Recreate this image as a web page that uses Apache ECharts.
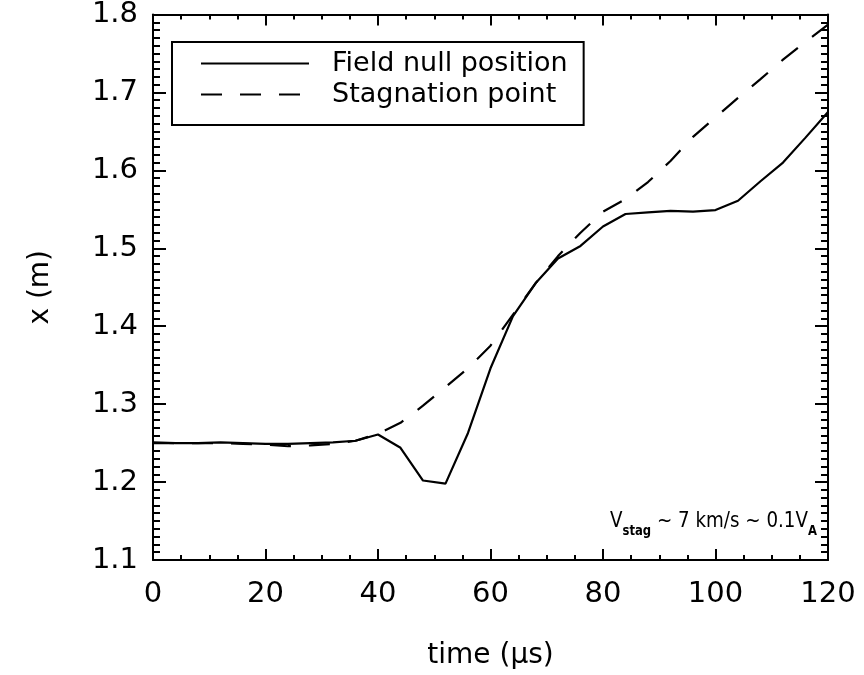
<!DOCTYPE html>
<html>
<head>
<meta charset="utf-8">
<script src="https://cdn.jsdelivr.net/npm/echarts@6/dist/echarts.min.js"></script>
<style>
  html, body { margin: 0; padding: 0; background: #fff; }
  #chart { width: 864px; height: 675px; }
</style>
</head>
<body>
<div id="chart"></div>
<script>
// time (µs), samples every 4 µs
const times = [0, 4, 8, 12, 16, 20, 24, 28, 32, 36, 40, 44, 48, 52, 56, 60,
  64, 68, 72, 76, 80, 84, 88, 92, 96, 100, 104, 108, 112, 116, 120];

// field null position x (m)
const nullPos = [1.251, 1.250, 1.250, 1.251, 1.250, 1.249, 1.249, 1.250, 1.251, 1.253, 1.261,
  1.244, 1.202, 1.198, 1.263, 1.346, 1.413, 1.455, 1.487, 1.503, 1.528, 1.544, 1.546,
  1.548, 1.547, 1.549, 1.561, 1.586, 1.610, 1.642, 1.675];

// stagnation point x (m)
const stagPos = [1.250, 1.250, 1.250, 1.250, 1.249, 1.248, 1.246, 1.247, 1.249, 1.253, 1.262,
  1.276, 1.298, 1.322, 1.346, 1.375, 1.415, 1.455, 1.490, 1.520, 1.547, 1.563, 1.585,
  1.612, 1.643, 1.668, 1.693, 1.717, 1.742, 1.765, 1.787];

const seriesNames = ['Field null position', 'Stagnation point'];

const FONT = 'DejaVu Sans';

const toPairs = (xs, ys) => xs.map((x, i) => [x, ys[i]]);

const chart = echarts.init(document.getElementById('chart'));

const axisLine = { show: true, onZero: false, lineStyle: { color: '#000', width: 2 } };

const option = {
  backgroundColor: '#fff',
  animation: false,
  grid: { left: 153, right: 36, top: 12, bottom: 112, containLabel: false },
  legend: {
    orient: 'vertical',
    left: 172,
    top: 42,
    data: seriesNames,
    itemWidth: 108,
    itemHeight: 14,
    itemGap: 4,
    padding: [8, 16, 17, 28],
    borderColor: '#000',
    borderWidth: 2,
    itemStyle: { color: 'transparent', borderWidth: 0 },
    textStyle: { fontFamily: FONT, fontSize: 27, color: '#000', padding: [0, 0, 0, 18] }
  },
  xAxis: [
    {
      type: 'value', min: 0, max: 120, interval: 20,
      name: 'time (μs)', nameLocation: 'middle', nameGap: 82,
      nameTextStyle: { fontFamily: FONT, fontSize: 28, color: '#000' },
      axisLine: axisLine,
      axisTick: { show: true, inside: true, length: 11, lineStyle: { color: '#000', width: 2 } },
      minorTick: { show: true, splitNumber: 4, length: 5, lineStyle: { color: '#000', width: 2 } },
      axisLabel: { fontFamily: FONT, fontSize: 29, color: '#000', margin: 20 },
      splitLine: { show: false }
    },
    {
      type: 'value', min: 0, max: 120, interval: 20, position: 'top',
      axisLine: axisLine,
      axisTick: { show: true, inside: true, length: 11, lineStyle: { color: '#000', width: 2 } },
      minorTick: { show: true, splitNumber: 4, length: 5, lineStyle: { color: '#000', width: 2 } },
      axisLabel: { show: false },
      splitLine: { show: false }
    }
  ],
  yAxis: [
    {
      type: 'value', min: 1.1, max: 1.8, interval: 0.1,
      name: 'x (m)', nameLocation: 'middle', nameGap: 98, nameRotate: 90,
      nameTextStyle: { fontFamily: FONT, fontSize: 28, color: '#000' },
      axisLine: axisLine,
      axisTick: { show: true, inside: true, length: 13, lineStyle: { color: '#000', width: 2 } },
      minorTick: { show: true, splitNumber: 10, length: 7, lineStyle: { color: '#000', width: 2 } },
      axisLabel: { fontFamily: FONT, fontSize: 29, color: '#000', margin: 15,
        formatter: v => v.toFixed(1) },
      splitLine: { show: false }
    },
    {
      type: 'value', min: 1.1, max: 1.8, interval: 0.1, position: 'right',
      axisLine: axisLine,
      axisTick: { show: true, inside: true, length: 13, lineStyle: { color: '#000', width: 2 } },
      minorTick: { show: true, splitNumber: 10, length: 7, lineStyle: { color: '#000', width: 2 } },
      axisLabel: { show: false },
      splitLine: { show: false }
    }
  ],
  graphic: [
    {
      // annotation, squeezed a little to mimic the narrow plot font
      type: 'text',
      x: 610,
      y: 502,
      scaleX: 0.83,
      style: {
        text: '{a|V}{s|stag}{a| ~ 7 km/s ~ 0.1V}{s|A}',
        rich: {
          a: { fontFamily: FONT, fontSize: 22, color: '#000', verticalAlign: 'bottom', lineHeight: 30 },
          s: { fontFamily: FONT, fontSize: 14, fontWeight: 'bold', color: '#000', verticalAlign: 'bottom', lineHeight: 30, padding: [0, 0, -6, 0] }
        }
      }
    }
  ],
  series: [
    {
      name: seriesNames[0],
      type: 'line',
      data: toPairs(times, nullPos),
      showSymbol: false,
      symbol: 'none',
      lineStyle: { color: '#000', width: 2.2, type: 'solid' },
      itemStyle: { color: '#000' }
    },
    {
      name: seriesNames[1],
      type: 'line',
      data: toPairs(times, stagPos),
      showSymbol: false,
      symbol: 'none',
      lineStyle: { color: '#000', width: 2.2, type: [21, 18] },
      itemStyle: { color: '#000' }
    }
  ]
};

chart.setOption(option);
</script>
</body>
</html>
